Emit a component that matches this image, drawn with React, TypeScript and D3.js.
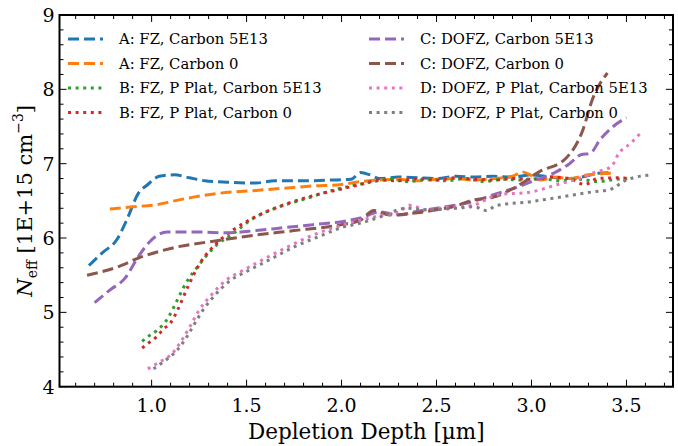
import React from 'react';
import * as d3 from 'd3';

// depth [um], Neff [1E+15 cm^-3]
const fzC5 = [[0.67,5.63],[0.74,5.8],[0.82,5.99],[0.87,6.25],[0.93,6.6],[0.98,6.72],[1.04,6.83],[1.12,6.85],[1.2,6.81],[1.28,6.77],[1.4,6.75],[1.55,6.74],[1.65,6.77],[1.8,6.77],[1.95,6.78],[2.05,6.79],[2.1,6.88],[2.15,6.85],[2.2,6.8],[2.3,6.82],[2.4,6.81],[2.5,6.8],[2.6,6.83],[2.7,6.82],[2.8,6.83],[2.9,6.82],[3.0,6.85],[3.1,6.82],[3.2,6.8],[3.3,6.84],[3.35,6.87],[3.41,6.88]];
const fzC0 = [[0.78,6.39],[0.9,6.42],[1.03,6.45],[1.12,6.5],[1.22,6.55],[1.35,6.6],[1.55,6.64],[1.7,6.67],[1.85,6.7],[2.0,6.72],[2.1,6.76],[2.2,6.78],[2.3,6.79],[2.4,6.77],[2.5,6.79],[2.6,6.8],[2.7,6.78],[2.8,6.8],[2.9,6.83],[2.95,6.89],[3.0,6.84],[3.05,6.78],[3.12,6.82],[3.2,6.8],[3.3,6.85],[3.42,6.87]];
const fzPC5 = [[0.95,4.61],[0.99,4.69],[1.03,4.76],[1.09,4.94],[1.13,5.14],[1.18,5.39],[1.25,5.64],[1.34,5.9],[1.43,6.06],[1.52,6.24],[1.65,6.4],[1.8,6.52],[1.95,6.64],[2.05,6.7],[2.15,6.75],[2.25,6.79],[2.35,6.76],[2.45,6.79],[2.55,6.77],[2.65,6.8],[2.75,6.76],[2.85,6.79],[2.95,6.78],[3.05,6.8],[3.15,6.77],[3.25,6.79],[3.35,6.76],[3.45,6.79],[3.53,6.8]];
const fzPC0 = [[0.95,4.52],[0.99,4.6],[1.03,4.68],[1.06,4.77],[1.1,4.86],[1.14,5.05],[1.19,5.34],[1.25,5.64],[1.35,5.95],[1.43,6.11],[1.55,6.29],[1.7,6.45],[1.85,6.57],[2.0,6.66],[2.1,6.72],[2.2,6.78],[2.3,6.77],[2.4,6.8],[2.5,6.78],[2.6,6.81],[2.7,6.79],[2.8,6.78],[2.9,6.8],[3.0,6.79],[3.1,6.82],[3.2,6.8],[3.28,6.72],[3.35,6.8],[3.45,6.81],[3.52,6.8]];
const dofzC5 = [[0.7,5.13],[0.78,5.3],[0.86,5.46],[0.93,5.75],[0.99,5.95],[1.08,6.08],[1.25,6.08],[1.39,6.07],[1.55,6.1],[1.7,6.14],[1.85,6.18],[2.0,6.22],[2.1,6.27],[2.2,6.35],[2.3,6.31],[2.4,6.36],[2.5,6.4],[2.6,6.44],[2.69,6.49],[2.82,6.6],[2.92,6.68],[3.0,6.76],[3.13,6.89],[3.2,7.0],[3.26,7.12],[3.31,7.14],[3.36,7.32],[3.43,7.5],[3.5,7.62]];
const dofzC0 = [[0.66,5.5],[0.82,5.61],[0.93,5.73],[1.1,5.86],[1.36,5.97],[1.55,6.04],[1.75,6.1],[2.0,6.18],[2.1,6.24],[2.17,6.37],[2.25,6.31],[2.4,6.34],[2.5,6.38],[2.6,6.43],[2.69,6.51],[2.8,6.55],[2.92,6.69],[3.04,6.89],[3.18,7.07],[3.27,7.45],[3.32,7.86],[3.4,8.22]];
const dofzPC5 = [[0.98,4.24],[1.04,4.33],[1.11,4.45],[1.16,4.63],[1.2,4.8],[1.25,5.03],[1.32,5.25],[1.39,5.43],[1.47,5.55],[1.55,5.66],[1.7,5.86],[1.85,6.04],[2.0,6.17],[2.1,6.24],[2.2,6.3],[2.3,6.35],[2.36,6.44],[2.45,6.38],[2.55,6.41],[2.69,6.44],[2.82,6.58],[3.0,6.62],[3.15,6.73],[3.25,6.8],[3.34,6.89],[3.42,6.96],[3.46,7.14],[3.52,7.27],[3.57,7.4]];
const dofzPC0 = [[1.01,4.24],[1.07,4.35],[1.13,4.48],[1.18,4.65],[1.22,4.82],[1.27,5.03],[1.34,5.25],[1.41,5.42],[1.5,5.55],[1.6,5.68],[1.75,5.88],[1.9,6.04],[2.0,6.14],[2.1,6.2],[2.2,6.28],[2.34,6.4],[2.45,6.38],[2.6,6.4],[2.7,6.42],[2.76,6.37],[2.82,6.44],[3.0,6.49],[3.1,6.53],[3.22,6.58],[3.32,6.62],[3.41,6.65],[3.5,6.78],[3.63,6.85]];

const labels = [
  'A: FZ, Carbon 5E13', 'A: FZ, Carbon 0', 'B: FZ, P Plat, Carbon 5E13', 'B: FZ, P Plat, Carbon 0',
  'C: DOFZ, Carbon 5E13', 'C: DOFZ, Carbon 0', 'D: DOFZ, P Plat, Carbon 5E13', 'D: DOFZ, P Plat, Carbon 0',
];
const seriesData = [fzC5, fzC0, fzPC5, fzPC0, dofzC5, dofzC0, dofzPC5, dofzPC0];
const dashed = [true, true, false, false, true, true, false, false];
const xTicks = [1.0, 1.5, 2.0, 2.5, 3.0, 3.5];
const yTicks = [4, 5, 6, 7, 8, 9];

const width = 678, height = 446;
const margin = {left: 59.5, right: 5, top: 15, bottom: 59.3};
const font = 'DejaVu Serif';

export default function App() {
  const x = d3.scaleLinear().domain([0.515, 3.745]).range([margin.left, width - margin.right]);
  const y = d3.scaleLinear().domain([4, 9]).range([height - margin.bottom, margin.top]);
  const color = d3.scaleOrdinal<number, string>().domain(d3.range(8)).range(d3.schemeCategory10);
  const line = d3.line<number[]>().x(d => x(d[0])).y(d => y(d[1])).curve(d3.curveMonotoneX);

  const [x0, x1] = x.range();
  const [y0, y1] = y.range();
  const xMinor = d3.range(0.6, 3.75, 0.1).filter(v => !xTicks.some(t => Math.abs(t - v) < 1e-6));
  const yMinor = d3.range(4.2, 9, 0.2).filter(v => !yTicks.some(t => Math.abs(t - v) < 1e-6));

  const dash = (i: number) => dashed[i] ? '11,5' : '3,4.6';

  return (
    <div style={{position: 'fixed', left: 0, top: 0}}>
      <svg width={width} height={height} style={{display: 'block', background: '#fff'}}>
        <defs>
          <clipPath id="plot"><rect x={x0} y={y1} width={x1 - x0} height={y0 - y1} /></clipPath>
        </defs>
        <g clipPath="url(#plot)">
          {seriesData.map((s, i) => (
            <path key={i} d={line(s) || ''} fill="none" stroke={color(i)} strokeWidth={3}
                  strokeDasharray={dash(i)} />
          ))}
        </g>
        {/* ticks, inward on all sides */}
        <g stroke="#000" strokeWidth={1}>
          {xTicks.map(t => <g key={'xt' + t}>
            <line x1={x(t)} x2={x(t)} y1={y0} y2={y0 - 7} />
            <line x1={x(t)} x2={x(t)} y1={y1} y2={y1 + 7} />
          </g>)}
          {xMinor.map(t => <g key={'xm' + t}>
            <line x1={x(t)} x2={x(t)} y1={y0} y2={y0 - 4} />
            <line x1={x(t)} x2={x(t)} y1={y1} y2={y1 + 4} />
          </g>)}
          {yTicks.map(t => <g key={'yt' + t}>
            <line x1={x0} x2={x0 + 7} y1={y(t)} y2={y(t)} />
            <line x1={x1} x2={x1 - 7} y1={y(t)} y2={y(t)} />
          </g>)}
          {yMinor.map(t => <g key={'ym' + t}>
            <line x1={x0} x2={x0 + 4} y1={y(t)} y2={y(t)} />
            <line x1={x1} x2={x1 - 4} y1={y(t)} y2={y(t)} />
          </g>)}
        </g>
        <rect x={x0} y={y1} width={x1 - x0} height={y0 - y1} fill="none" stroke="#000" strokeWidth={2} />
        <g fontFamily={font} fontSize={19} fill="#000">
          {xTicks.map(t => (
            <text key={'xl' + t} x={x(t)} y={y0 + 25} textAnchor="middle">{t.toFixed(1)}</text>
          ))}
          {yTicks.map(t => (
            <text key={'yl' + t} x={x0 - 5} y={y(t) + 7} textAnchor="end">{t}</text>
          ))}
        </g>
        <text x={(x0 + x1) / 2} y={height - 7} textAnchor="middle" fontFamily={font} fontSize={21.5}>
          Depletion Depth [µm]
        </text>
        <text transform={`translate(32,${(y0 + y1) / 2}) rotate(-90)`} textAnchor="middle"
              fontFamily={font} fontSize={21}>
          <tspan fontStyle="italic">N</tspan>
          <tspan fontSize={14} dy={5}>eff</tspan>
          <tspan dy={-5}> [1E+15 cm</tspan>
          <tspan fontSize={14} dy={-9}>−3</tspan>
          <tspan dy={9}>]</tspan>
        </text>
        {/* legend, two columns */}
        <g fontFamily={font} fontSize={14.8}>
          {labels.map((lab, i) => {
            const col = Math.floor(i / 4), row = i % 4;
            const lx = col === 0 ? 68 : 369;
            const ly = 39 + row * 24.5;
            return (
              <g key={lab}>
                <line x1={lx} x2={lx + 35} y1={ly} y2={ly} stroke={color(i)} strokeWidth={3}
                      strokeDasharray={dash(i)} />
                <text x={lx + 51} y={ly + 5}>{lab}</text>
              </g>
            );
          })}
        </g>
      </svg>
    </div>
  );
}
